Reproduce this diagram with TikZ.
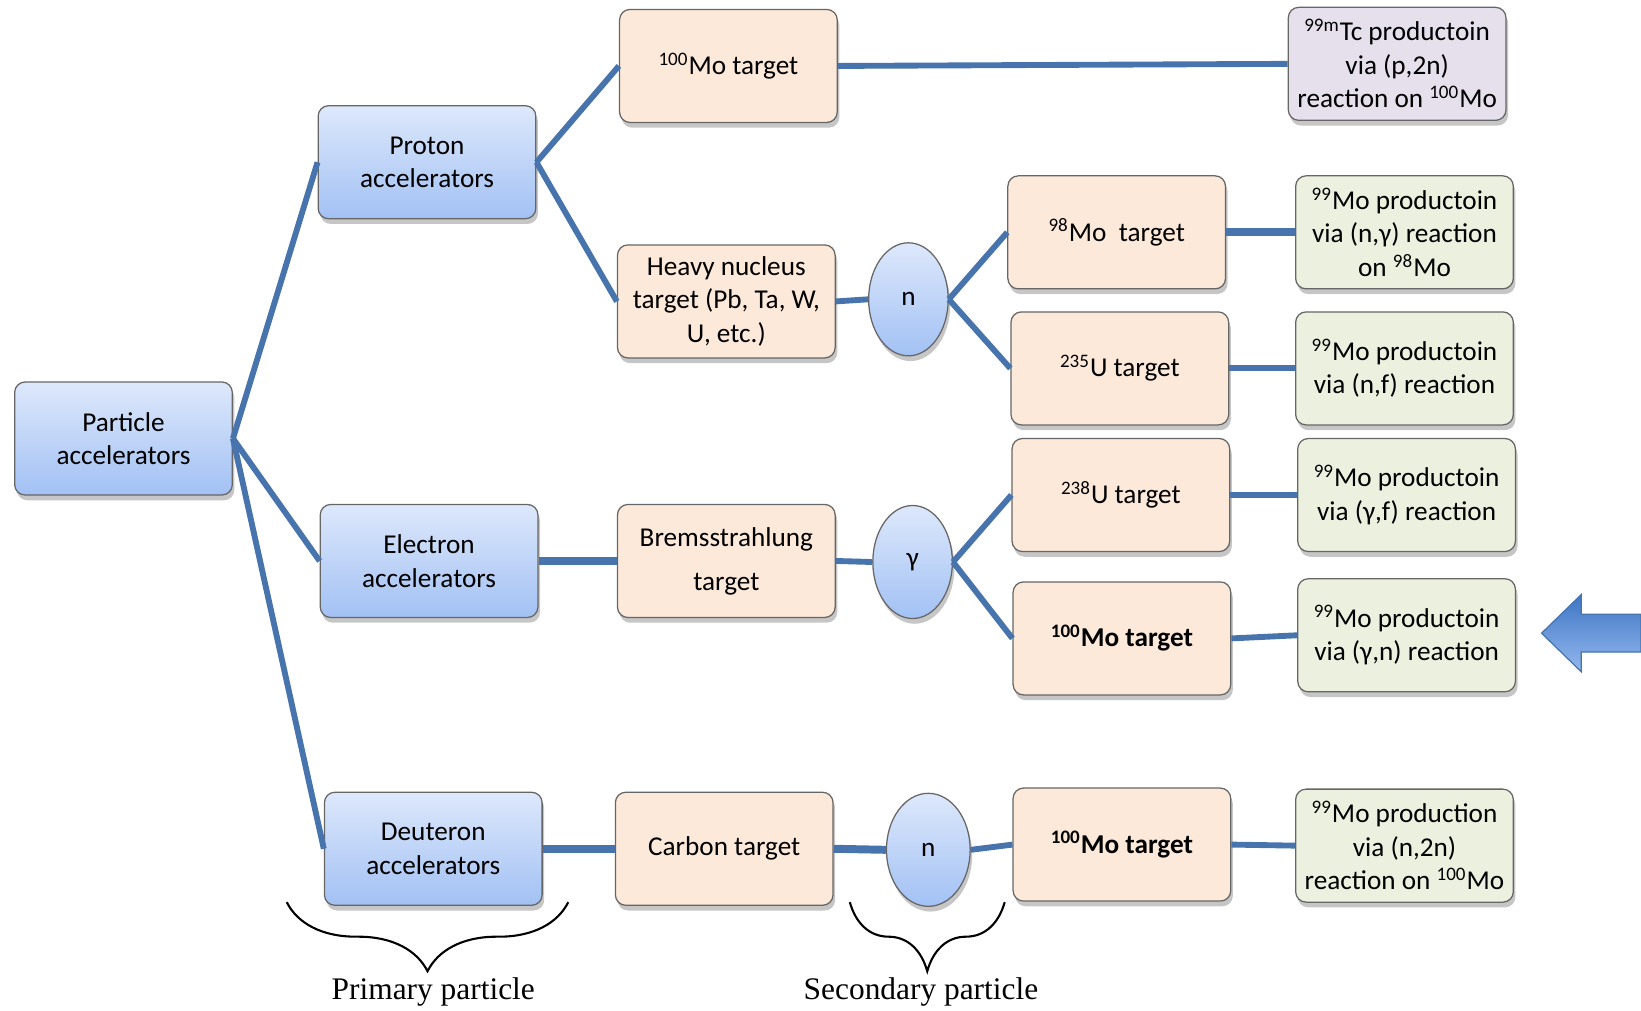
\documentclass[tikz,border=0pt]{standalone}
\usepackage{fontspec}
\setmainfont{Carlito}
\newfontfamily\seriflabel{Liberation Serif}
\usetikzlibrary{shapes.geometric,shadows,decorations.pathreplacing}
\definecolor{linkblue}{HTML}{4774AD}
\definecolor{accTop}{HTML}{DDE8FB}
\definecolor{accBot}{HTML}{A2C1F4}
\definecolor{tgtFill}{HTML}{FDE9D9}
\definecolor{prodFill}{HTML}{EBF1DE}
\definecolor{tcFill}{HTML}{E5E0EC}
\definecolor{arrowTop}{HTML}{3F76C4}
\definecolor{arrowBot}{HTML}{93B8EE}
\tikzset{
  box/.style={rectangle, rounded corners=5pt, draw=black!60, line width=0.6pt,
    minimum width=104pt, minimum height=54pt, align=center, inner sep=1pt,
    font=\fontsize{13}{16}\selectfont,
    drop shadow={shadow xshift=1pt, shadow yshift=-2.5pt, opacity=0.45}},
  accbox/.style={box, top color=accTop, bottom color=accBot},
  tgtbox/.style={box, fill=tgtFill},
  prodbox/.style={box, fill=prodFill},
  tcbox/.style={box, fill=tcFill},
  secpart/.style={ellipse, draw=black!60, line width=0.6pt, inner sep=0pt,
    minimum width=38pt, minimum height=54pt, top color=accTop, bottom color=accBot,
    font=\fontsize{13}{16}\selectfont,
    drop shadow={shadow xshift=1pt, shadow yshift=-2.5pt, opacity=0.45}},
  link/.style={draw=linkblue, line width=2.8pt},
  wide link/.style={draw=linkblue, line width=3.8pt},
  grouplabel/.style={font=\seriflabel\fontsize{15}{18}\selectfont},
  groupbrace/.style={decorate, decoration={brace, amplitude=33pt}, line width=1pt}
}
\begin{document}
\begin{tikzpicture}[x=0.5pt, y=-0.5pt]
\useasboundingbox (0,0) rectangle (1568,966);
\node [accbox] (part) at (118,419) {Particle\\accelerators};
\node [accbox] (prot) at (408,155) {Proton\\accelerators};
\node [accbox] (elec) at (410,536) {Electron\\accelerators};
\node [accbox] (deut) at (414,811) {Deuteron\\accelerators};
\node [tgtbox] (moA) at (696,63) {\textsuperscript{100}Mo target};
\node [tgtbox] (heavy) at (694,288) {Heavy nucleus\\target (Pb, Ta, W,\\U, etc.)};
\node [tgtbox] (brems) at (694,536) {Bremsstrahlung\\[5pt]target};
\node [tgtbox] (carbon) at (692,811) {Carbon target};
\node [secpart] (nA) at (868,286) {n};
\node [secpart] (gam) at (872,537) {γ};
\node [secpart, minimum width=40pt] (nB) at (887,812) {n};
\node [tgtbox] (moB) at (1067,222) {\textsuperscript{98}Mo\ \ target};
\node [tgtbox] (uA) at (1070,352) {\textsuperscript{235}U target};
\node [tgtbox] (uB) at (1071,473) {\textsuperscript{238}U target};
\node [tgtbox] (moC) at (1072,610) {\textbf{\textsuperscript{100}Mo target}};
\node [tgtbox] (moD) at (1072,807) {\textbf{\textsuperscript{100}Mo target}};
\node [tcbox] (tc) at (1335,61) {\textsuperscript{99m}Tc productoin\\via (p,2n)\\reaction on \textsuperscript{100}Mo};
\node [prodbox] (prA) at (1342,222) {\textsuperscript{99}Mo productoin\\via (n,γ) reaction\\on \textsuperscript{98}Mo};
\node [prodbox] (prB) at (1342,352) {\textsuperscript{99}Mo productoin\\via (n,f) reaction};
\node [prodbox] (prC) at (1344,473) {\textsuperscript{99}Mo productoin\\via (γ,f) reaction};
\node [prodbox] (prD) at (1344,607) {\textsuperscript{99}Mo productoin\\via (γ,n) reaction};
\node [prodbox] (prE) at (1342,808) {\textsuperscript{99}Mo production\\via (n,2n)\\reaction on \textsuperscript{100}Mo};
\draw [link] (part.east) -- (prot.west);
\draw [link] (part.east) -- (elec.west);
\draw [link] (part.east) -- (deut.west);
\draw [link] (prot.east) -- (moA.west);
\draw [link] (prot.east) -- (heavy.west);
\draw [link] (moA.east) -- (tc.west);
\draw [link] (heavy.east) -- (nA.west);
\draw [link] (nA.east) -- (moB.west);
\draw [link] (nA.east) -- (uA.west);
\draw [wide link] (moB.east) -- (prA.west);
\draw [link] (uA.east) -- (prB.west);
\draw [wide link] (elec.east) -- (brems.west);
\draw [link] (brems.east) -- (gam.west);
\draw [link] (gam.east) -- (uB.west);
\draw [link] (gam.east) -- (moC.west);
\draw [link] (uB.east) -- (prC.west);
\draw [link] (moC.east) -- (prD.west);
\draw [wide link] (deut.east) -- (carbon.west);
\draw [wide link] (carbon.east) -- (nB.west);
\draw [link] (nB.east) -- (moD.west);
\draw [link] (moD.east) -- (prE.west);
\draw [groupbrace] (543,862) -- (274,862);
\draw [groupbrace] (960,862) -- (812,862);
\node [grouplabel] (prim) at (414,948) {Primary particle};
\node [grouplabel] (sec) at (880,948) {Secondary particle};
\draw [draw=linkblue, line width=0.6pt, top color=arrowTop, bottom color=arrowBot]
  (1473,605) -- (1511,568) -- (1511,587) -- (1568,587) -- (1568,623)
  -- (1511,623) -- (1511,642) -- cycle;
\end{tikzpicture}
\end{document}
